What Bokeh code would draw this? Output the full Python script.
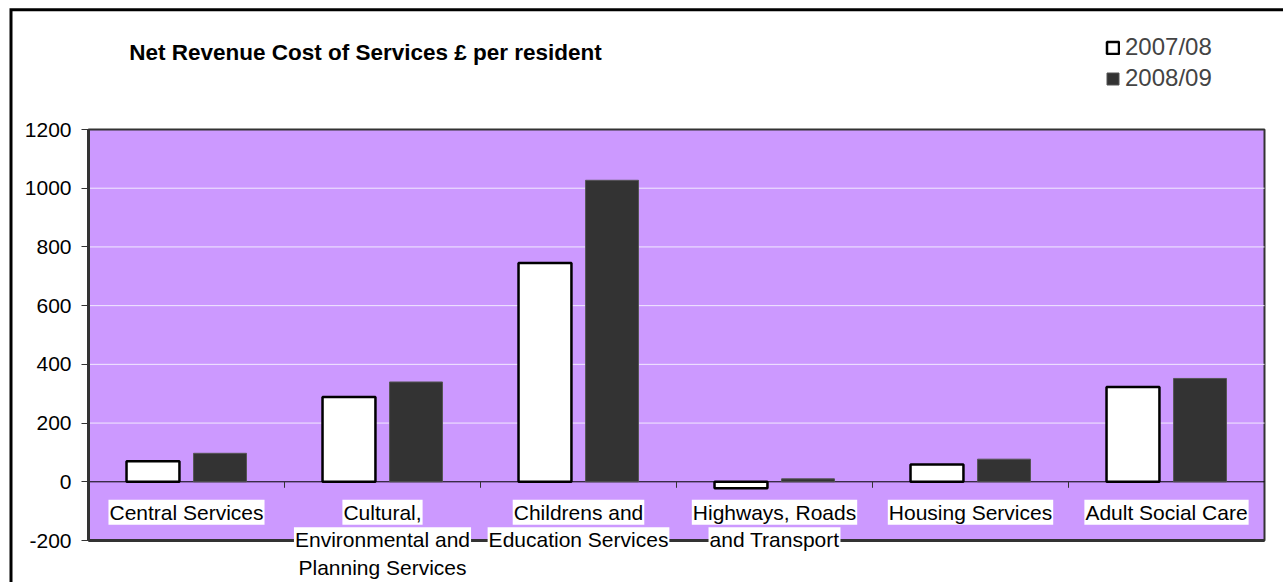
import numpy as np
from bokeh.plotting import figure
from bokeh.models import (Range1d, LinearAxis, FixedTicker, Label, Legend, LegendItem,
                          ColumnDataSource, BoxAnnotation)
from bokeh.embed import file_html
from bokeh.resources import INLINE

# ---------------- data ----------------
categories = [
    "Central Services",
    "Cultural,\nEnvironmental and\nPlanning Services",
    "Childrens and\nEducation Services",
    "Highways, Roads\nand Transport",
    "Housing Services",
    "Adult Social Care",
]
series_names = ["2007/08", "2008/09"]
values_2007_08 = [70, 289, 745, -22, 59, 323]
values_2008_09 = [97, 340, 1027, 10, 77, 352]
y_ticks = [-200, 0, 200, 400, 600, 800, 1000, 1200]
title_text = "Net Revenue Cost of Services \u00a3 per resident"

# ---------------- layout (pixels) ----------------
W, H = 1283, 582
BOX_L, BOX_T = 10.5, 9.2      # outer chart box left/top border line
PA_L, PA_R = 88, 1264         # plot area left/right
PA_T, PA_B = 129, 540         # plot area top/bottom
FONT = "Liberation Sans"

n = len(categories)
ppx = (PA_R - PA_L) / n
ppu = (PA_B - PA_T) / (y_ticks[-1] - y_ticks[0])
x0 = -PA_L / ppx
y1 = y_ticks[-1] + PA_T / ppu
x_range = Range1d(x0, n + (W - PA_R) / ppx)
y_range = Range1d(y_ticks[0] - (H - PA_B) / ppu, y1)


def xd(px):
    return x0 + px / ppx


def yd(py):
    return y1 - py / ppu


p = figure(
    width=W, height=H,
    min_border_left=0, min_border_top=0, min_border_right=0, min_border_bottom=0,
    x_range=x_range, y_range=y_range,
    x_axis_location=None, y_axis_location=None,
    output_backend="svg", toolbar_location=None,
)
p.background_fill_color = "white"
p.border_fill_color = "white"
p.outline_line_color = None
p.xgrid.visible = False
p.ygrid.visible = False

# outer chart box (left and top edges visible)
p.line(x=[xd(BOX_L), xd(BOX_L), xd(W + 10)], y=[yd(H + 10), yd(BOX_T), yd(BOX_T)],
       line_color="black", line_width=3, line_join="miter")

# plot area
p.add_layout(BoxAnnotation(left=0, right=n, bottom=y_ticks[0], top=y_ticks[-1],
                           fill_color="#CC99FF", fill_alpha=1,
                           line_color="#333333", line_width=2, line_alpha=1,
                           level="underlay"))

# gridlines
grid_src = ColumnDataSource(dict(y=[t for t in y_ticks if t not in (0, y_ticks[0], y_ticks[-1])]))
p.segment(x0=0, x1=n, y0="y", y1="y", source=grid_src, line_color="#F2EAFF", line_width=1)

# y axis
ya = LinearAxis(fixed_location=0, bounds=(y_ticks[0], y_ticks[-1]),
                ticker=FixedTicker(ticks=y_ticks))
ya.major_label_overrides = {t: str(t) for t in y_ticks}
ya.major_label_text_font = FONT
ya.major_label_text_font_size = "21px"
ya.major_label_text_color = "black"
ya.major_tick_out = 7
ya.major_tick_in = 0
ya.minor_tick_out = 0
ya.minor_tick_in = 0
ya.major_tick_line_color = "#333333"
ya.axis_line_color = "#333333"
ya.axis_line_width = 3
ya.major_label_standoff = 10
p.add_layout(ya, "left")

# category axis line on zero and boundary ticks
bounds_x = list(range(n + 1))
p.segment(x0=0, x1=n, y0=0, y1=0, line_color="black", line_width=1)
p.ray(x=bounds_x, y=[0] * len(bounds_x), length=6, length_units="screen",
      angle=-np.pi / 2, line_color="#333333", line_width=1)
# heavier bottom edge of the plot area
p.segment(x0=0, x1=n, y0=y_ticks[0], y1=y_ticks[0], line_color="#333333", line_width=3)

centers = np.arange(n) + 0.5
bar_w = 0.27
off = 0.171
src = ColumnDataSource(dict(
    x1=centers - off, x2=centers + off,
    v1=values_2007_08, v2=values_2008_09,
))
r1 = p.vbar(x="x1", top="v1", bottom=0, width=bar_w, source=src,
            fill_color="white", line_color="black", line_width=2.5)
r2 = p.vbar(x="x2", top="v2", bottom=0, width=bar_w, source=src,
            fill_color="#333333", line_color="#555555", line_width=1)

# category labels, one white box per line
row_offsets = [-30.5, -58, -85.5]
for c, cat in zip(centers, categories):
    for k, line in enumerate(cat.split("\n")):
        p.add_layout(Label(
            x=c, y=0, y_offset=row_offsets[k], text=line,
            text_align="center", text_baseline="middle",
            text_font=FONT, text_font_size="21px", text_color="black",
            background_fill_color="white", padding=1,
        ))

# title (screen units relative to the frame's bottom-left)
p.add_layout(Label(
    x=365, y=H - 52, x_units="screen", y_units="screen", text=title_text,
    text_align="center", text_baseline="middle",
    text_font=FONT, text_font_size="22.5px", text_font_style="bold", text_color="black",
))

legend = Legend(
    items=[LegendItem(label=series_names[0], renderers=[r1]),
           LegendItem(label=series_names[1], renderers=[r2])],
    location=(1105, H - 92),
    border_line_color=None, background_fill_alpha=0,
    padding=0, margin=0, spacing=3,
    glyph_width=15, glyph_height=15, label_standoff=5, label_height=28,
    label_text_font=FONT, label_text_font_size="24px",
)
p.add_layout(legend)

open("out.html", "w").write(file_html(p, INLINE))
